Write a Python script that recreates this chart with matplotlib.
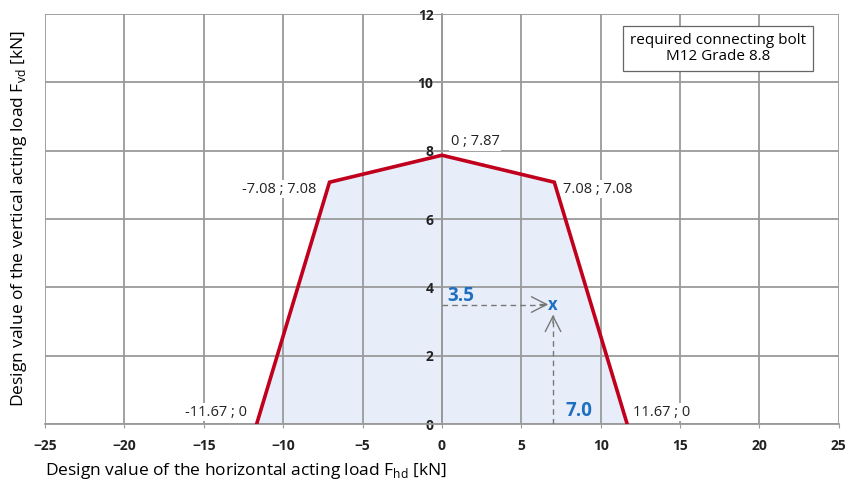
import matplotlib
matplotlib.use("Agg")
import matplotlib.pyplot as plt

# interaction diagram corner points (F_hd ; F_vd) in kN
f_hd = [-11.67, -7.08, 0, 7.08, 11.67]
f_vd = [0, 7.08, 7.87, 7.08, 0]
point_labels = ["-11.67 ; 0", "-7.08 ; 7.08", "0 ; 7.87", "7.08 ; 7.08", "11.67 ; 0"]

# example load case
check_hd = 7.0
check_vd = 3.5

x_ticks = [-25, -20, -15, -10, -5, 0, 5, 10, 15, 20, 25]
y_ticks = [0, 2, 4, 6, 8, 10, 12]

plt.rcParams['font.family'] = ['Open Sans', 'DejaVu Sans']
plt.rcParams['mathtext.fontset'] = 'custom'
plt.rcParams['mathtext.rm'] = 'Open Sans'

RED = '#c0001c'
BLUE = '#1f6fc0'
GRID = '#9a9a9a'
DASH = '#777777'

fig = plt.figure(figsize=(8.49, 4.88), dpi=100)
ax = fig.add_axes([0.053, 0.131, 0.935, 0.840])

# fill under the grid, outline on top
ax.fill(f_hd, f_vd, color='#e7eef9', zorder=0.1)
ax.plot(f_hd, f_vd, color=RED, lw=2.6, zorder=3, solid_joinstyle='miter')

ax.set_xlim(x_ticks[0], x_ticks[-1])
ax.set_ylim(y_ticks[0], y_ticks[-1])
ax.set_xticks(x_ticks)
ax.set_yticks(y_ticks)
ax.grid(True, color=GRID, lw=1.3)
ax.set_axisbelow(True)

# y axis sits on the x = 0 line
for s in ['top', 'right']:
    ax.spines[s].set_visible(False)
ax.spines['left'].set_position(('data', 0))
ax.spines['left'].set_color(GRID)
ax.spines['left'].set_linewidth(1.3)
ax.spines['bottom'].set_color(GRID)
ax.spines['bottom'].set_linewidth(1.3)
ax.tick_params(axis='y', length=5, color=GRID, pad=1, labelsize=10)
ax.tick_params(axis='x', length=3, color=GRID, pad=8, labelsize=10)
for lbl in ax.get_xticklabels() + ax.get_yticklabels():
    lbl.set_fontweight('bold')
    lbl.set_color('#222222')

# corner point labels
box = dict(facecolor='white', edgecolor='none', pad=1.0)
offsets = [(-0.6, 0.35, 'right'), (-0.8, -0.2, 'right'), (0.55, 0.4, 'left'),
           (0.55, -0.2, 'left'), (0.35, 0.35, 'left')]
for x, y, t, (dx, dy, ha) in zip(f_hd, f_vd, point_labels, offsets):
    ax.text(x + dx, y + dy, t, ha=ha, va='center', fontsize=10.5,
            color='#222222', bbox=box, zorder=4)

# load case check: dashed leader lines with open arrow heads
ax.plot([0, check_hd - 0.3], [check_vd, check_vd], color=DASH, lw=1.0,
        ls=(0, (4, 3)), zorder=5)
ax.plot([check_hd, check_hd], [0, check_vd - 0.3], color=DASH, lw=1.0,
        ls=(0, (4, 3)), zorder=5)
head = dict(arrowstyle='->, head_length=0.55, head_width=0.28', color=DASH, lw=1.0,
            shrinkA=0, shrinkB=0, mutation_scale=20)
ax.annotate('', xy=(check_hd - 0.3, check_vd), xytext=(-6, 0),
            textcoords='offset points', arrowprops=head, zorder=5)
ax.annotate('', xy=(check_hd, check_vd - 0.3), xytext=(0, -6),
            textcoords='offset points', arrowprops=head, zorder=5)
ax.text(check_hd, check_vd, 'x', color=BLUE, fontsize=12, fontweight='bold',
        ha='center', va='center', zorder=6)
ax.text(0.35, check_vd + 0.25, f'{check_vd:.1f}', color=BLUE, fontsize=13.5,
        fontweight='bold', ha='left', va='center')
ax.text(check_hd + 0.8, 0.38, f'{check_hd:.1f}', color=BLUE, fontsize=13.5,
        fontweight='bold', ha='left', va='center')

ax.text(0.848, 0.917, 'required connecting bolt\nM12 Grade 8.8', transform=ax.transAxes,
        ha='center', va='center', fontsize=11, linespacing=1.1,
        bbox=dict(facecolor='white', edgecolor='#666666', lw=0.9, pad=5), zorder=6)

fig.text(0.053, 0.035, r'Design value of the horizontal acting load F$_{\mathrm{hd}}$ [kN]',
         ha='left', va='center', fontsize=12.5)
fig.text(0.022, 0.553, r'Design value of the vertical acting load F$_{\mathrm{vd}}$ [kN]',
         ha='center', va='center', rotation=90, fontsize=12.5)

fig.savefig('out.png', dpi=100, facecolor='white')
